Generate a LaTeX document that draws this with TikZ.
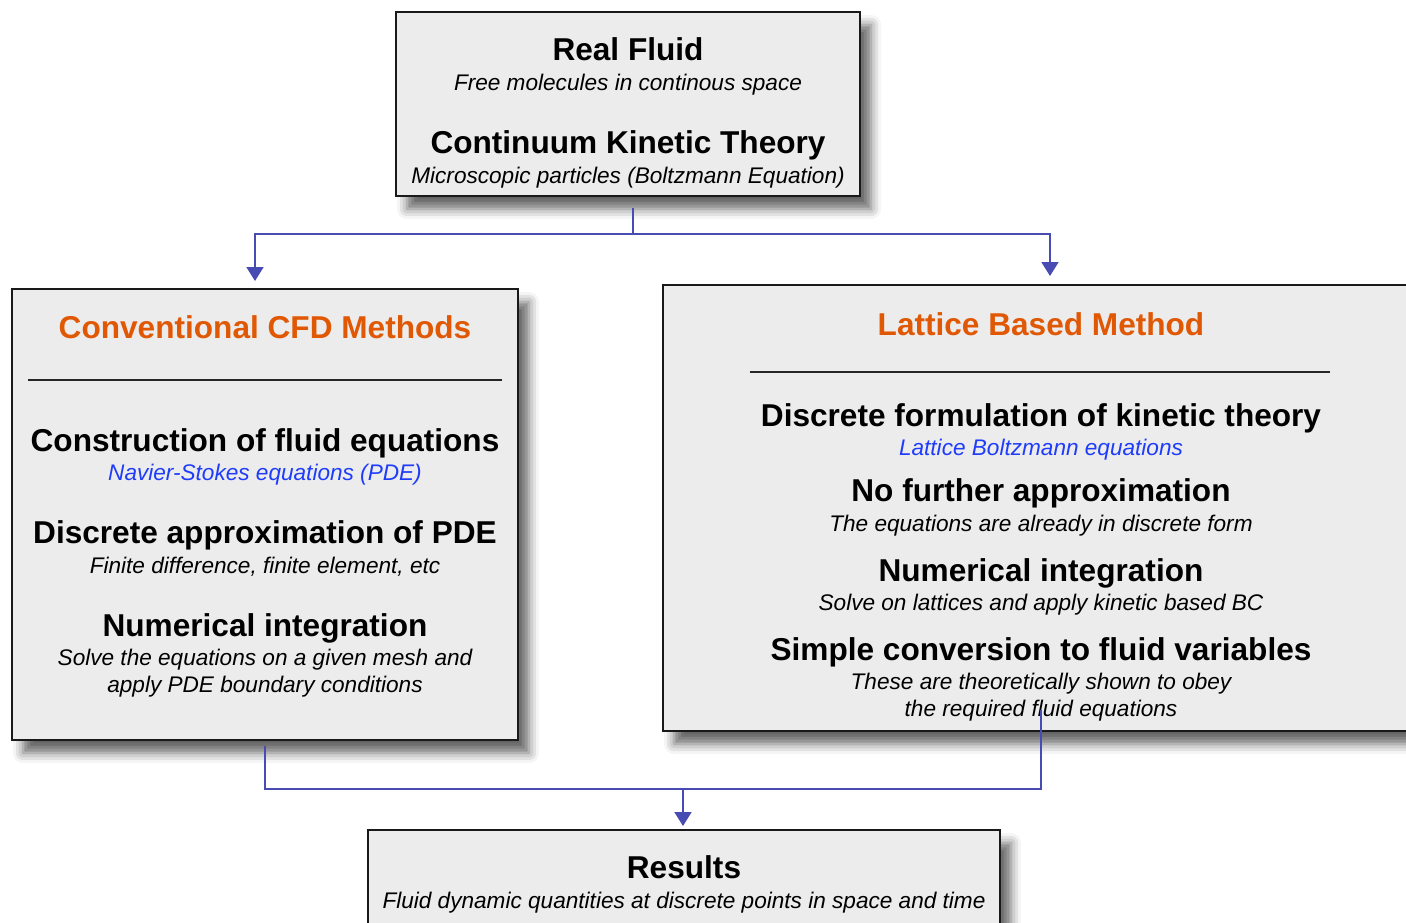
\documentclass[tikz,border=0pt]{standalone}
\usepackage{fontspec}
\setmainfont{Liberation Sans}
\usepackage{tikz}
\usepackage{xcolor}
\usetikzlibrary{arrows.meta,positioning,calc,shadows.blur}
\definecolor{boxgray}{RGB}{236,236,236}
\definecolor{titleorange}{RGB}{224,88,4}
\definecolor{eqblue}{RGB}{30,60,250}
\definecolor{linkblue}{RGB}{72,76,178}

\begin{document}
\begin{tikzpicture}[
    x=1pt,y=-1pt,
    box/.style={draw=black!90,line width=2pt,fill=boxgray,inner sep=0pt,
        blur shadow={shadow xshift=11pt,shadow yshift=-13pt,shadow blur radius=10pt,shadow opacity=60}},
    headtext/.style={inner sep=0pt,anchor=base,font=\fontsize{31.6}{37}\selectfont\bfseries},
    subtext/.style={inner sep=0pt,anchor=base,font=\fontsize{22.6}{27}\selectfont\itshape},
    methodtitle/.style={headtext,text=titleorange},
    eqtext/.style={subtext,text=eqblue},
    sepline/.style={draw=black!85,line width=2.8pt},
    link/.style={draw=linkblue,line width=1.8pt,-{Triangle[width=17pt,length=14pt]}},
    joinline/.style={draw=linkblue,line width=1.8pt}
]
\useasboundingbox (0,0) rectangle (1406,922);

% Real fluid
\node[box,minimum width=464pt,minimum height=184pt] (real) at (628,104) {};
\node[headtext] (realfluid) at (628,60) {Real Fluid};
\node[subtext] (molecules) at (628,90) {Free molecules in continous space};
\node[headtext] (kinetic) at (628,153) {Continuum Kinetic Theory};
\node[subtext] (boltzmann) at (628,183) {Microscopic particles (Boltzmann Equation)};

% Conventional CFD
\node[box,minimum width=506pt,minimum height=451pt] (conv) at (265,514.5) {};
\node[methodtitle] (convtitle) at (265,338) {Conventional CFD Methods};
\draw[sepline] (28,380) -- (502,380);
\node[headtext] (construct) at (265,451) {Construction of fluid equations};
\node[eqtext] (navier) at (265,480) {Navier-Stokes equations (PDE)};
\node[headtext] (approx) at (265,543) {Discrete approximation of PDE};
\node[subtext] (fdfe) at (265,573) {Finite difference, finite element, etc};
\node[headtext] (convint) at (265,636) {Numerical integration};
\node[subtext] (mesh) at (265,665) {Solve the equations on a given mesh and};
\node[subtext] (pdebc) at (265,692) {apply PDE boundary conditions};

% Lattice based
\node[box,minimum width=770pt,minimum height=446pt] (lattice) at (1048,508) {};
\node[methodtitle] (lattitle) at (1041,335) {Lattice Based Method};
\draw[sepline] (750,372) -- (1330,372);
\node[headtext] (formul) at (1041,426) {Discrete formulation of kinetic theory};
\node[eqtext] (lbe) at (1041,455) {Lattice Boltzmann equations};
\node[headtext] (nofurther) at (1041,501) {No further approximation};
\node[subtext] (already) at (1041,531) {The equations are already in discrete form};
\node[headtext] (latint) at (1041,581) {Numerical integration};
\node[subtext] (lattices) at (1041,610) {Solve on lattices and apply kinetic based BC};
\node[headtext] (convert) at (1041,660) {Simple conversion to fluid variables};
\node[subtext] (obey) at (1041,689) {These are theoretically shown to obey};
\node[subtext] (required) at (1041,716) {the required fluid equations};

% Results
\node[box,minimum width=632pt,minimum height=130pt] (results) at (684,895) {};
\node[headtext] (restitle) at (684,878) {Results};
\node[subtext] (quantities) at (684,908) {Fluid dynamic quantities at discrete points in space and time};

% Connections
\coordinate (fork) at (633,234);
\coordinate (merge) at (683,789);
\coordinate (latout) at (1041,710);
\draw[link] ([xshift=5pt,yshift=-11pt]real.south) -- (fork) -| ([xshift=-10pt,yshift=7pt]conv.north);
\draw[link] (fork) -| ([xshift=2pt,yshift=8pt]lattice.north);
\draw[joinline] ([yshift=-5pt]conv.south) |- (merge);
\draw[joinline] (latout) |- (merge);
\draw[link] (merge) -- ([xshift=-1pt,yshift=3pt]results.north);

\end{tikzpicture}
\end{document}
